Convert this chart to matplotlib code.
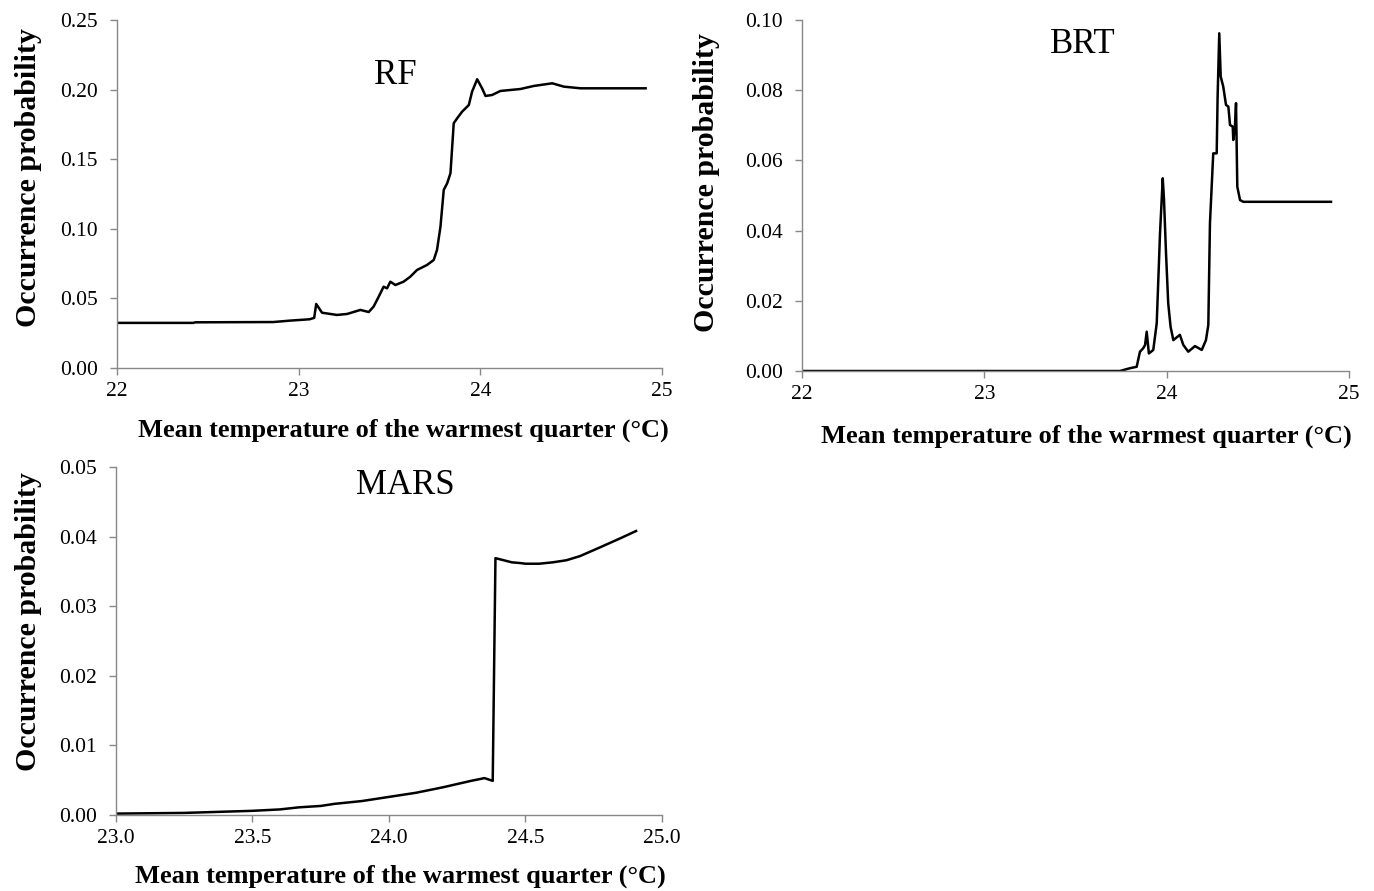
import numpy as np
import matplotlib.pyplot as plt
from matplotlib.ticker import FormatStrFormatter, MultipleLocator

plt.rcParams['font.family'] = ['Liberation Serif', 'DejaVu Serif']

# RF response curve
rf_x = [22.0, 22.42, 22.43, 22.86, 22.95, 23.06, 23.085, 23.096, 23.128, 23.21,
        23.266, 23.339, 23.385, 23.412, 23.44, 23.467, 23.486, 23.504, 23.532,
        23.577, 23.614, 23.651, 23.706, 23.743, 23.761, 23.78, 23.798, 23.817,
        23.835, 23.853, 23.872, 23.899, 23.936, 23.954, 23.982, 24.009, 24.028,
        24.064, 24.11, 24.22, 24.294, 24.395, 24.459, 24.551, 24.909]
rf_y = [0.0324, 0.0324, 0.0328, 0.0330, 0.0340, 0.0350, 0.0360, 0.0460, 0.0397,
        0.0381, 0.0388, 0.0417, 0.0402, 0.0441, 0.0512, 0.0584, 0.0572, 0.0620,
        0.0596, 0.0620, 0.0656, 0.0704, 0.0740, 0.0776, 0.0848, 0.1015, 0.1279,
        0.1327, 0.1399, 0.1758, 0.1794, 0.1841, 0.1889, 0.1985, 0.2074, 0.2009,
        0.1954, 0.1961, 0.1990, 0.2004, 0.2026, 0.2045, 0.2021, 0.2009, 0.2009]

# BRT response curve
brt_x = [22.0, 23.744, 23.799, 23.836, 23.854, 23.872, 23.882, 23.891, 23.903,
         23.927, 23.946, 23.964, 23.979, 23.986, 23.997, 24.009, 24.022, 24.037,
         24.073, 24.092, 24.119, 24.156, 24.193, 24.216, 24.229, 24.238, 24.256,
         24.275, 24.28, 24.289, 24.297, 24.311, 24.326, 24.339, 24.348, 24.363,
         24.366, 24.375, 24.381, 24.388, 24.403, 24.421, 24.902]
brt_y = [0.0, 0.0, 0.0008, 0.0012, 0.0055, 0.0065, 0.0074, 0.0112, 0.0050,
         0.0060, 0.0136, 0.0392, 0.0549, 0.0487, 0.0335, 0.0193, 0.0126, 0.0088,
         0.0103, 0.0074, 0.0055, 0.0071, 0.0060, 0.0088, 0.0131, 0.0421, 0.0620,
         0.0620, 0.0781, 0.0962, 0.0839, 0.0810, 0.0758, 0.0753, 0.0701, 0.0696,
         0.0658, 0.0696, 0.0763, 0.0525, 0.0487, 0.0482, 0.0482]

# MARS response curve
mars_x = [23.0, 23.25, 23.5, 23.6, 23.67, 23.75, 23.8, 23.9, 24.0, 24.1, 24.2,
          24.3, 24.35, 24.38, 24.39, 24.41, 24.43, 24.45, 24.48, 24.5, 24.53,
          24.55, 24.6, 24.65, 24.7, 24.77, 24.85, 24.905]
mars_y = [0.0002, 0.0003, 0.0006, 0.0008, 0.0011, 0.0013, 0.0016, 0.0020, 0.0026,
          0.0032, 0.0040, 0.0049, 0.0053, 0.0049, 0.0369, 0.0367, 0.0365, 0.0363,
          0.0362, 0.0361, 0.0361, 0.0361, 0.0363, 0.0366, 0.0372, 0.0384, 0.0398,
          0.0408]

xlabel = 'Mean temperature of the warmest quarter (\u00b0C)'
ylabel = 'Occurrence probability'


def style_axis(ax, xlim, xstep, xfmt, ylim, ystep, yfmt):
    ax.set_xlim(*xlim)
    ax.set_ylim(*ylim)
    ax.xaxis.set_major_locator(MultipleLocator(xstep))
    ax.yaxis.set_major_locator(MultipleLocator(ystep))
    ax.xaxis.set_major_formatter(FormatStrFormatter(xfmt))
    ax.yaxis.set_major_formatter(FormatStrFormatter(yfmt))
    for s in ['top', 'right']:
        ax.spines[s].set_visible(False)
    for s in ['left', 'bottom']:
        ax.spines[s].set_color('#888888')
        ax.spines[s].set_linewidth(1.0)
    ax.tick_params(axis='both', direction='out', length=5, width=1.0,
                   color='#888888', labelsize=15.5)
    ax.tick_params(axis='y', pad=9)
    ax.tick_params(axis='x', pad=5)
    ax.set_xlabel(xlabel, fontsize=19, fontweight='bold')
    ax.set_ylabel(ylabel, fontsize=21.5, fontweight='bold')


fig = plt.figure(figsize=(13.74, 8.91), dpi=100)

ax1 = fig.add_axes([0.0852, 0.587, 0.3967, 0.3906])
ax1.plot(rf_x, rf_y, color='black', linewidth=1.8)
style_axis(ax1, (22, 25), 1, '%d', (0, 0.25), 0.05, '%.2f')
ax1.text(0.51, 0.84, 'RF', transform=ax1.transAxes, fontsize=25,
         ha='center', va='center')
ax1.xaxis.set_label_coords(0.525, -0.145)
ax1.yaxis.set_label_coords(-0.138, 0.546)

ax2 = fig.add_axes([0.5837, 0.5836, 0.398, 0.394])
ax2.plot(brt_x, brt_y, color='black', linewidth=1.8)
style_axis(ax2, (22, 25), 1, '%d', (0, 0.10), 0.02, '%.2f')
ax2.text(0.514, 0.93, 'BRT', transform=ax2.transAxes, fontsize=25,
         ha='center', va='center')
ax2.xaxis.set_label_coords(0.52, -0.152)
ax2.yaxis.set_label_coords(-0.15, 0.538)

ax3 = fig.add_axes([0.0844, 0.0853, 0.3974, 0.3906])
ax3.plot(mars_x, mars_y, color='black', linewidth=1.8)
style_axis(ax3, (23, 25), 0.5, '%.1f', (0, 0.05), 0.01, '%.2f')
ax3.text(0.53, 0.948, 'MARS', transform=ax3.transAxes, fontsize=25,
         ha='center', va='center')
ax3.xaxis.set_label_coords(0.52, -0.142)
ax3.yaxis.set_label_coords(-0.136, 0.555)

fig.savefig('out.png', dpi=100)
